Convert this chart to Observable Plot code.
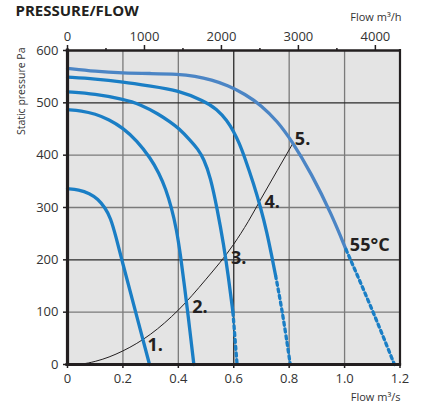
<!DOCTYPE html>
<html><head><meta charset="utf-8">
<script src="https://cdn.jsdelivr.net/npm/d3@7"></script>
<script src="https://cdn.jsdelivr.net/npm/@observablehq/plot@0.6"></script>
<style>body{margin:0;background:#fff}</style>
</head><body><div id="chart"></div>
<script>
// ---- data ----
const title = "PRESSURE/FLOW";
const xLabel = "Flow m³/s";
const topLabel = "Flow m³/h";
const yLabel = "Static pressure Pa";
const xTicks = [0, 0.2, 0.4, 0.6, 0.8, 1.0, 1.2];
const yTicks = [0, 100, 200, 300, 400, 500, 600];
const topTicks = [0, 1000, 2000, 3000, 4000];
const topMinor = [500, 1500, 2500, 3500];
const gridX = [0.2, 0.4, 0.6, 0.8, 1.0];
const gridY = [100, 200, 300, 400, 500];
const darkGridX = [0.6];
const darkGridY = [200, 500];

const curve1 = [[0,336],[0.04,334],[0.08,327],[0.11,316],[0.135,300],[0.155,281],[0.175,244],[0.196,200],[0.246,100],[0.296,0]];
const curve2 = [[0,487],[0.05,485],[0.1,479],[0.15,468],[0.2,452],[0.25,428],[0.3,394],[0.33,366],[0.355,335],[0.375,300],[0.393,260],[0.409,205],[0.422,150],[0.434,100],[0.456,0]];
const curve3 = [[0,521],[0.1,517],[0.2,507],[0.264,497],[0.33,478],[0.372,463],[0.4,452],[0.444,428],[0.47,412],[0.492,393],[0.516,358],[0.54,298],[0.564,228],[0.58,170],[0.597,100]];
const curve3Dot = [[0.597,100],[0.612,0]];
const curve4 = [[0,549],[0.1,546],[0.2,540],[0.3,532],[0.4,524],[0.492,504],[0.54,488],[0.576,466],[0.6,445],[0.62,423],[0.64,395],[0.672,345],[0.697,300],[0.72,252],[0.738,205],[0.751,170]];
const curve4Dot = [[0.751,170],[0.774,103],[0.804,0]];
const curve5 = [[0,566],[0.1,560],[0.2,557],[0.3,556],[0.4,555],[0.46,551],[0.52,544],[0.58,533],[0.64,517],[0.7,495],[0.757,465],[0.809,428],[0.881,364],[0.953,287],[1.005,220]];
const curve5Dot = [[1.005,220],[1.106,96],[1.18,0]];
const system = [[0,0],[0.05,1],[0.1,6],[0.2,26],[0.3,58],[0.4,104],[0.5,163],[0.6,230],[0.652,273],[0.7,318],[0.815,424]];
const curveLabels = [
  {x: 0.289, y: 25, t: "1."},
  {x: 0.45, y: 98, t: "2."},
  {x: 0.59, y: 192, t: "3."},
  {x: 0.711, y: 300, t: "4."},
  {x: 0.8206, y: 420, t: "5."},
  {x: 1.019, y: 216, t: "55°C"}
];

// ---- chart ----
const blue = "#1a7ec5";
const lightBlue = "#4b85c5";
const ink = "#231f20";
const fx = d => d[0], fy = d => d[1];
const solid = (data, color) => Plot.line(data, {x: fx, y: fy, stroke: color, strokeWidth: 3.3, curve: "basis"});
const dotted = (data, color) => Plot.line(data, {x: fx, y: fy, stroke: color, strokeWidth: 3.3, strokeDasharray: "3.2 3.6", curve: "monotone-x"});

const chart = Plot.plot({
  width: 422,
  height: 405,
  marginLeft: 67,
  marginRight: 22.5,
  marginTop: 50,
  marginBottom: 41,
  style: {fontFamily: "'Open Sans', sans-serif", fontSize: "13px", color: "#333", background: "#fff"},
  x: {domain: [0, 1.2], label: null},
  y: {domain: [0, 600], label: null},
  marks: [
    Plot.frame({fill: "#e4e4e4", stroke: null}),
    Plot.ruleX(gridX, {stroke: d => darkGridX.includes(d) ? "#2a2a2a" : "#7a7a7a", strokeWidth: 1.3}),
    Plot.ruleY(gridY, {stroke: d => darkGridY.includes(d) ? "#2a2a2a" : "#7a7a7a", strokeWidth: 1.3}),
    Plot.line(system, {x: fx, y: fy, stroke: ink, strokeWidth: 1, curve: "monotone-x"}),
    solid(curve1, blue),
    solid(curve2, blue),
    solid(curve3, blue),
    dotted(curve3Dot, blue),
    solid(curve4, blue),
    dotted(curve4Dot, blue),
    solid(curve5, lightBlue),
    dotted(curve5Dot, blue),
    Plot.ruleX([0], {stroke: ink, strokeWidth: 3.2, strokeLinecap: "square"}),
    Plot.ruleY([0], {stroke: ink, strokeWidth: 3.2, strokeLinecap: "square"}),
    Plot.ruleY([600], {stroke: ink, strokeWidth: 2.6, strokeLinecap: "square"}),
    Plot.ruleX([1.2], {stroke: ink, strokeWidth: 2.2, strokeLinecap: "square"}),
    Plot.axisX(xTicks, {anchor: "bottom", tickSize: 4, tickPadding: 5.5, strokeWidth: 1.5, stroke: ink, label: null,
      tickFormat: d => d === 0 ? "0" : d.toFixed(1)}),
    Plot.axisY(yTicks, {anchor: "left", tickSize: 4, tickPadding: 5, strokeWidth: 1.5, stroke: ink, label: null,
      tickFormat: d => String(d)}),
    Plot.axisX(topTicks.map(h => h / 3600), {anchor: "top", tickSize: 6, tickPadding: 4, strokeWidth: 1.5, stroke: ink, label: null,
      tickFormat: d => String(Math.round(d * 3600))}),
    Plot.axisX(topMinor.map(h => h / 3600), {anchor: "top", tickSize: 3, strokeWidth: 1.5, stroke: ink, label: null,
      tickFormat: () => ""}),
    Plot.text(curveLabels, {x: "x", y: "y", text: "t", textAnchor: "start", lineAnchor: "bottom",
      fontSize: 18, fontWeight: "bold", fill: ink}),
    Plot.text([title], {frameAnchor: "top-left", dx: -52, dy: -35, text: d => d, textAnchor: "start",
      lineAnchor: "bottom", fontSize: 15, fontWeight: "bold", fill: ink}),
    Plot.text([topLabel], {frameAnchor: "top-right", dx: 1.5, dy: -29.3, text: d => d, textAnchor: "end",
      lineAnchor: "bottom", fontSize: 11, fill: "#333"}),
    Plot.text([xLabel], {frameAnchor: "bottom-right", dx: 0.5, dy: 36, text: d => d, textAnchor: "end",
      lineAnchor: "bottom", fontSize: 11, fill: "#333"}),
    Plot.text([yLabel], {frameAnchor: "top-left", dx: -42.5, dy: -3, rotate: -90, text: d => d, textAnchor: "end",
      lineAnchor: "bottom", fontSize: 10.5, fill: "#333"})
  ]
});
document.getElementById("chart").appendChild(chart);
</script>
</body></html>
